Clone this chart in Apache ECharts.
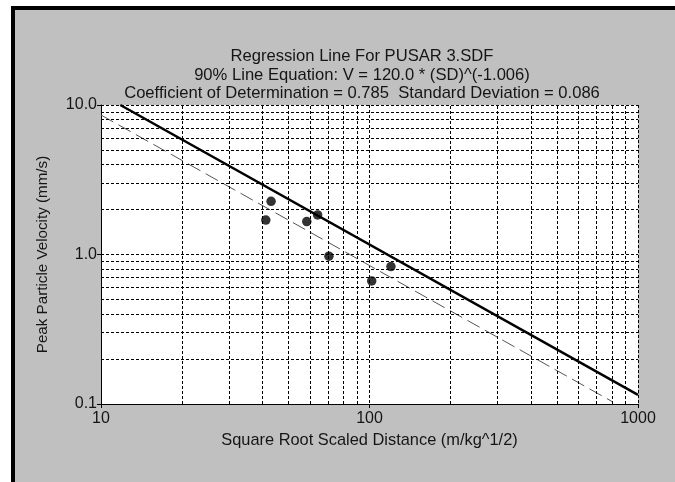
<!DOCTYPE html>
<html>
<head>
<meta charset="utf-8">
<script src="https://cdn.jsdelivr.net/npm/echarts@6/dist/echarts.min.js"></script>
<style>
  html, body { margin: 0; padding: 0; background: #ffffff; }
  #frame { position: absolute; left: 11px; top: 6px; width: 664px; height: 476px;
           box-sizing: border-box; border-top: 4px solid #000; border-left: 4px solid #000;
           background: #c0c0c0; }
  #chart { position: absolute; left: 0; top: 0; width: 675px; height: 482px; }
</style>
</head>
<body>
<div id="frame"></div>
<div id="chart"></div>
<script>
// ---- data ----
var titleLines = [
  'Regression Line For PUSAR 3.SDF',
  '90% Line Equation: V = 120.0 * (SD)^(-1.006)',
  'Coefficient of Determination = 0.785  Standard Deviation = 0.086'
];
var xAxisTitle = 'Square Root Scaled Distance (m/kg^1/2)';
var yAxisTitle = 'Peak Particle Velocity (mm/s)';

var pointSD  = [43.0, 41.1, 58.4, 64.1, 70.6, 120.2, 101.9];
var pointPPV = [2.27, 1.70, 1.66, 1.84, 0.975, 0.83, 0.666];

// 90% line endpoints (solid)
var fitLineSD  = [11.8, 1000];
var fitLinePPV = [10.0, 0.115];
// mean regression line endpoints (dashed)
var meanLineSD  = [10, 800];
var meanLinePPV = [8.57, 0.104];

var xMinorGrid = [20, 30, 40, 50, 60, 70, 80, 90, 200, 300, 400, 500, 600, 700, 800, 900];
var yMinorGrid = [0.2, 0.3, 0.4, 0.5, 0.6, 0.7, 0.8, 0.9, 2, 3, 4, 5, 6, 7, 8, 9];

var xTickValues = [10, 100, 1000];
var xTickLabels = ['10', '100', '1000'];
var yTickValues = [0.1, 1, 10];
var yTickLabels = ['0.1', '1.0', '10.0'];

function zip(a, b) { return a.map(function (v, i) { return [v, b[i]]; }); }
function labelFor(values, labels) {
  return function (v) {
    for (var i = 0; i < values.length; i++) {
      if (Math.abs(Math.log10(v) - Math.log10(values[i])) < 1e-6) return labels[i];
    }
    return '';
  };
}

var FONT = '"Liberation Sans", Arial, sans-serif';
var TEXT = '#151515';
var gridStyle = { color: '#000', width: 1, type: [3, 2] };

var minorLines = xMinorGrid.map(function (v) { return { xAxis: v }; })
  .concat(yMinorGrid.map(function (v) { return { yAxis: v }; }));

var chart = echarts.init(document.getElementById('chart'), null, { renderer: 'canvas' });
chart.setOption({
  backgroundColor: 'transparent',
  animation: false,
  title: {
    text: titleLines.join('\n'),
    left: 357, top: 42, textAlign: 'center',
    textStyle: { fontFamily: FONT, fontSize: 16.6, fontWeight: 'normal', color: TEXT, lineHeight: 18.75 }
  },
  grid: { left: 101, right: 37, top: 105, bottom: 78, show: true, backgroundColor: '#fff', borderWidth: 0 },
  xAxis: {
    type: 'log', logBase: 10, min: 10, max: 1000,
    name: xAxisTitle, nameLocation: 'middle', nameGap: 28,
    nameTextStyle: { fontFamily: FONT, fontSize: 16.4, color: TEXT },
    axisLine: { show: true, onZero: false, lineStyle: { color: '#000', width: 1 } },
    axisTick: { show: true, length: 4, inside: false, lineStyle: { color: '#000' } },
    axisLabel: { fontFamily: FONT, fontSize: 16, color: TEXT, margin: 7, formatter: labelFor(xTickValues, xTickLabels) },
    splitLine: { show: true, lineStyle: gridStyle },
    minorTick: { show: false }
  },
  yAxis: {
    type: 'log', logBase: 10, min: 0.1, max: 10,
    name: yAxisTitle, nameLocation: 'middle', nameGap: 51, nameRotate: 90,
    nameTextStyle: { fontFamily: FONT, fontSize: 15.2, color: TEXT },
    axisLine: { show: true, onZero: false, lineStyle: { color: '#000', width: 1 } },
    axisTick: { show: true, length: 4, inside: false, lineStyle: { color: '#000' } },
    axisLabel: { fontFamily: FONT, fontSize: 16, color: TEXT, margin: 4, formatter: labelFor(yTickValues, yTickLabels) },
    splitLine: { show: true, lineStyle: gridStyle }
  },
  series: [
    {
      type: 'line', data: [], silent: true, z: 1,
      markLine: {
        silent: true, symbol: 'none', animation: false,
        label: { show: false },
        lineStyle: gridStyle,
        emphasis: { disabled: true },
        data: minorLines
      }
    },
    {
      type: 'line', data: zip(meanLineSD, meanLinePPV), showSymbol: false, symbol: 'none', z: 3,
      lineStyle: { color: '#555', width: 1, type: [14, 6] }
    },
    {
      type: 'line', data: zip(fitLineSD, fitLinePPV), showSymbol: false, symbol: 'none', z: 4,
      lineStyle: { color: '#000', width: 2.5 }
    },
    {
      type: 'scatter', data: zip(pointSD, pointPPV), symbol: 'circle', symbolSize: 9.5, z: 5,
      itemStyle: { color: '#000' }
    }
  ]
});
</script>
</body>
</html>
